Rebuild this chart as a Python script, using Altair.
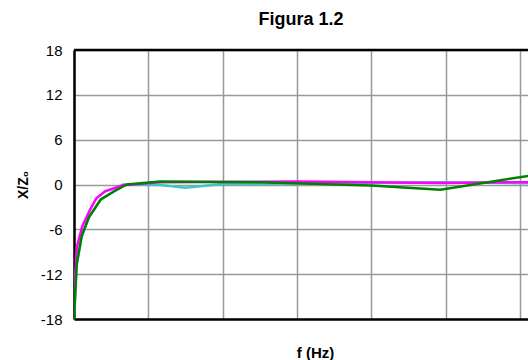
import altair as alt
import pandas as pd

chart_title = "Figura 1.2"
x_title = "f (Hz)"
y_title = "X/Z₀"
y_ticks = [-18, -12, -6, 0, 6, 12, 18]
x_grid = [0, 1, 2, 3, 4, 5, 6]
top_border = [18]

# x in grid-division units, y in X/Z0
cyan_x = [0.0, 0.036, 0.104, 0.2, 0.36, 0.525, 0.66, 1.16, 1.5, 1.97, 3.0, 4.93, 6.27]
cyan_y = [-18.0, -10.7, -6.9, -4.4, -2.0, -1.0, 0.0, -0.07, -0.43, 0.03, 0.15, 0.3, 0.15]

magenta_x = [0.0, 0.04, 0.11, 0.215, 0.3, 0.42, 0.66, 1.16, 3.0, 4.93, 6.27]
magenta_y = [-14.5, -8.3, -5.6, -3.4, -1.85, -0.9, -0.1, 0.3, 0.4, 0.2, 0.33]

green_x = [0.0, 0.036, 0.104, 0.2, 0.36, 0.525, 0.71, 1.16, 2.5, 4.0, 4.93, 6.27]
green_y = [-18.0, -10.7, -6.9, -4.4, -2.0, -1.0, 0.0, 0.4, 0.3, -0.15, -0.7, 1.4]

FONT = "Liberation Sans"

x_enc = alt.X(
    "f:Q",
    scale=alt.Scale(domain=[0, 6.11], nice=False, zero=False),
    axis=alt.Axis(
        values=x_grid, labels=False, ticks=False, grid=True,
        gridColor="#999999", gridWidth=1.5,
        domainColor="black", domainWidth=2.5,
        title=x_title, titleFont=FONT, titleFontSize=15, titleFontWeight="bold",
        titleColor="black", titleX=241, titleY=38, titleAlign="center",
        titleBaseline="alphabetic",
    ),
)
y_enc = alt.Y(
    "v:Q",
    scale=alt.Scale(domain=[-18, 18], nice=False),
    axis=alt.Axis(
        values=y_ticks, ticks=False, grid=True,
        gridColor="#999999", gridWidth=1.5,
        domainColor="black", domainWidth=2.5,
        labelFont=FONT, labelFontSize=15, labelColor="black", labelPadding=12,
        labelExpr="'' + datum.value",
        title=y_title, titleFont=FONT, titleFontSize=14, titleFontWeight="bold",
        titleColor="black", titleX=-47, titleY=134.5, titleAlign="center",
        titleBaseline="alphabetic", titleAngle=-90,
    ),
)


def series(xs, ys, color):
    df = pd.DataFrame({"f": xs, "v": ys})
    return alt.Chart(df).mark_line(color=color, strokeWidth=2.5, clip=True).encode(x=x_enc, y=y_enc)


top = alt.Chart(pd.DataFrame({"v": top_border})).mark_rule(color="black", strokeWidth=2.5).encode(y=y_enc)

chart = alt.layer(
    series(cyan_x, cyan_y, "#3fc6c6"),
    series(magenta_x, magenta_y, "#ff00ff"),
    series(green_x, green_y, "#008000"),
    top,
).properties(
    width=454,
    height=269,
    autosize=alt.AutoSizeParams(type="none"),
    padding={"left": 74, "top": 50, "right": 0, "bottom": 41},
    background="white",
    title=alt.TitleParams(
        chart_title, font=FONT, fontSize=18, fontWeight="bold", color="black",
        anchor="middle", frame="group", baseline="alphabetic", offset=0,
    ),
).configure_view(stroke=None)

chart.save("out.html", embed_options={"renderer": "svg", "actions": False})
